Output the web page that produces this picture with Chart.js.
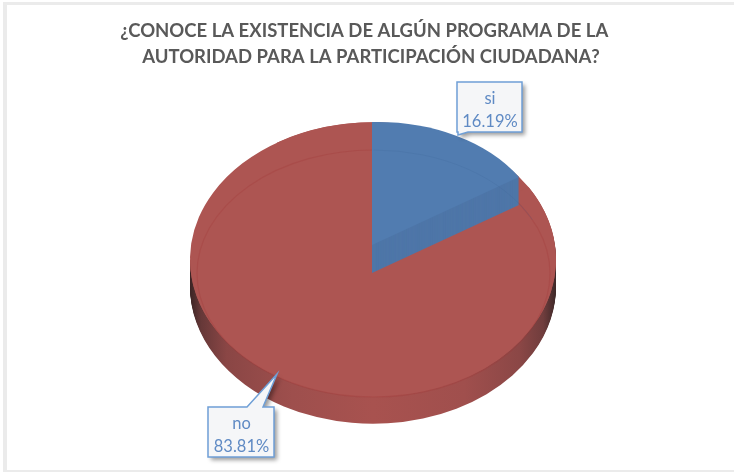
<!DOCTYPE html>
<html><head><meta charset="utf-8">
<style>html,body{margin:0;padding:0;background:#fff}canvas{display:block;filter:blur(0.4px)}</style>
<script src="https://cdn.jsdelivr.net/npm/chart.js@4"></script>
</head><body><canvas id="c" width="734" height="472"></canvas>
<script>
const categories = ["si", "no"];
const values = [16.19, 83.81];
const titleLines = ["¿CONOCE LA EXISTENCIA DE ALGÚN PROGRAMA DE LA   ", "AUTORIDAD PARA LA PARTICIPACIÓN CIUDADANA?"];
const sliceColors = ["#517cb0", "#ad5552"];

function withProxy(arc, fill){
  const p = Object.create(arc);
  p.options = Object.assign({}, arc.options, {backgroundColor: fill});
  return p;
}
function redLayer(ctx, arc, fill, dy, rot){
  ctx.save();
  ctx.translate(373, 259.5 + dy);
  ctx.scale(1, 0.75);
  ctx.rotate(rot);
  ctx.translate(-arc.x, -arc.y);
  withProxy(arc, fill).draw(ctx);
  ctx.restore();
}
function blueLayer(ctx, arc, fill, dy){
  ctx.save();
  ctx.transform(0.944, -0.022, 0, 0.672, 372, 245 + dy);
  ctx.translate(-arc.x, -arc.y);
  withProxy(arc, fill).draw(ctx);
  ctx.restore();
}
function callout(ctx, box, tail, lines){
  ctx.save();
  ctx.shadowColor = "rgba(0,0,0,0.4)";
  ctx.shadowBlur = 4; ctx.shadowOffsetX = 3; ctx.shadowOffsetY = 3;
  ctx.beginPath();
  const [x,y,w,h] = box;
  ctx.moveTo(x,y);
  if(tail.side === "top"){
    ctx.lineTo(tail.a,y); ctx.lineTo(tail.tx,tail.ty); ctx.lineTo(tail.b,y);
    ctx.lineTo(x+w,y); ctx.lineTo(x+w,y+h); ctx.lineTo(x,y+h);
  } else {
    ctx.lineTo(x+w,y); ctx.lineTo(x+w,y+h); ctx.lineTo(tail.b,y+h);
    ctx.lineTo(tail.tx,tail.ty); ctx.lineTo(tail.a,y+h); ctx.lineTo(x,y+h);
  }
  ctx.closePath();
  ctx.fillStyle = "#f5f6f8"; ctx.fill();
  ctx.shadowColor = "transparent";
  ctx.strokeStyle = "#6f9fd6"; ctx.lineWidth = 1.5; ctx.stroke();
  ctx.fillStyle = "#5f8ac4";
  ctx.font = "16.5px Lato";
  ctx.textAlign = "center"; ctx.textBaseline = "alphabetic";
  ctx.fillText(lines[0], x+w/2+0.5, y+21.5);
  ctx.fillText(lines[1], x+w/2+0.5, y+44.5);
  ctx.restore();
}
const pie3d = {
  id: "pie3d",
  beforeDraw(chart){
    const ctx = chart.ctx;
    ctx.save();
    ctx.fillStyle = "#ebebeb";
    ctx.fillRect(3, 2, 731, 3);
    ctx.fillRect(3, 2, 4, 470);
    ctx.fillRect(3, 470, 731, 2);
    ctx.restore();
  },
  beforeDatasetDraw(chart){
    const ctx = chart.ctx;
    const arcs = chart.getDatasetMeta(0).data;
    const [si, no] = arcs;
    const cy = no.y, R = no.outerRadius, hole = -Math.PI/2;
    const g = ctx.createLinearGradient(0, cy-R, 0, cy+R);
    [[0,"#3a2424"],[0.03,"#663838"],[0.1,"#8a4645"],[0.28,"#9e4f4d"],[0.5,"#a8524f"],[0.75,"#a04f4d"],[0.9,"#8b4746"],[0.965,"#703d3d"],[1,"#3d2828"]]
      .forEach(s => g.addColorStop(s[0], s[1]));
    for(let d = 27; d >= 1; d--) redLayer(ctx, no, g, d, hole);
    redLayer(ctx, no, no.options.backgroundColor, 0, hole);
    redLayer(ctx, no, no.options.backgroundColor, 0, 0);
    // inner bevel ring on the red face
    ctx.save();
    ctx.beginPath();
    ctx.ellipse(373.5, 273.5, 176.5, 123.5, 0, 0, Math.PI*2);
    ctx.strokeStyle = "rgba(160,50,50,0.25)"; ctx.lineWidth = 1.2; ctx.stroke();
    ctx.restore();
    for(let d = 28; d >= 1; d--) blueLayer(ctx, si, "#4e76a8", d);
    blueLayer(ctx, si, si.options.backgroundColor, 0);
    ctx.save();
    ctx.beginPath();
    ctx.ellipse(373.5, 273.5, 176.5, 123.5, 0, -Math.PI/2, -0.45);
    ctx.strokeStyle = "rgba(60,100,150,0.2)"; ctx.lineWidth = 1; ctx.stroke();
    ctx.restore();
    return false;
  },
  afterDraw(chart){
    const ctx = chart.ctx;
    const total = values.reduce((a,b)=>a+b,0);
    const txt = i => [categories[i], (values[i]/total*100).toFixed(2)+"%"];
    callout(ctx, [457,82,65,50], {side:"bottom",a:458,b:468,tx:458,ty:135}, txt(0));
    callout(ctx, [208,407,66,50], {side:"top",a:247,b:263,tx:277,ty:374}, txt(1));
  }
};
new Chart(document.getElementById("c"), {
  type: "pie",
  data: { labels: categories, datasets: [{ data: values, backgroundColor: sliceColors, borderWidth: 0 }] },
  options: {
    responsive: false, animation: false,
    layout: { padding: { top: 0, bottom: 29, left: 8, right: 0 } },
    plugins: {
      legend: { display: false }, tooltip: { enabled: false },
      title: { display: true, text: titleLines, color: "#595959",
        font: { family: "Lato", size: 18.5, weight: "bold", lineHeight: 1.405 },
        padding: { top: 18, bottom: 7 } }
    }
  },
  plugins: [pie3d]
});
</script></body></html>
